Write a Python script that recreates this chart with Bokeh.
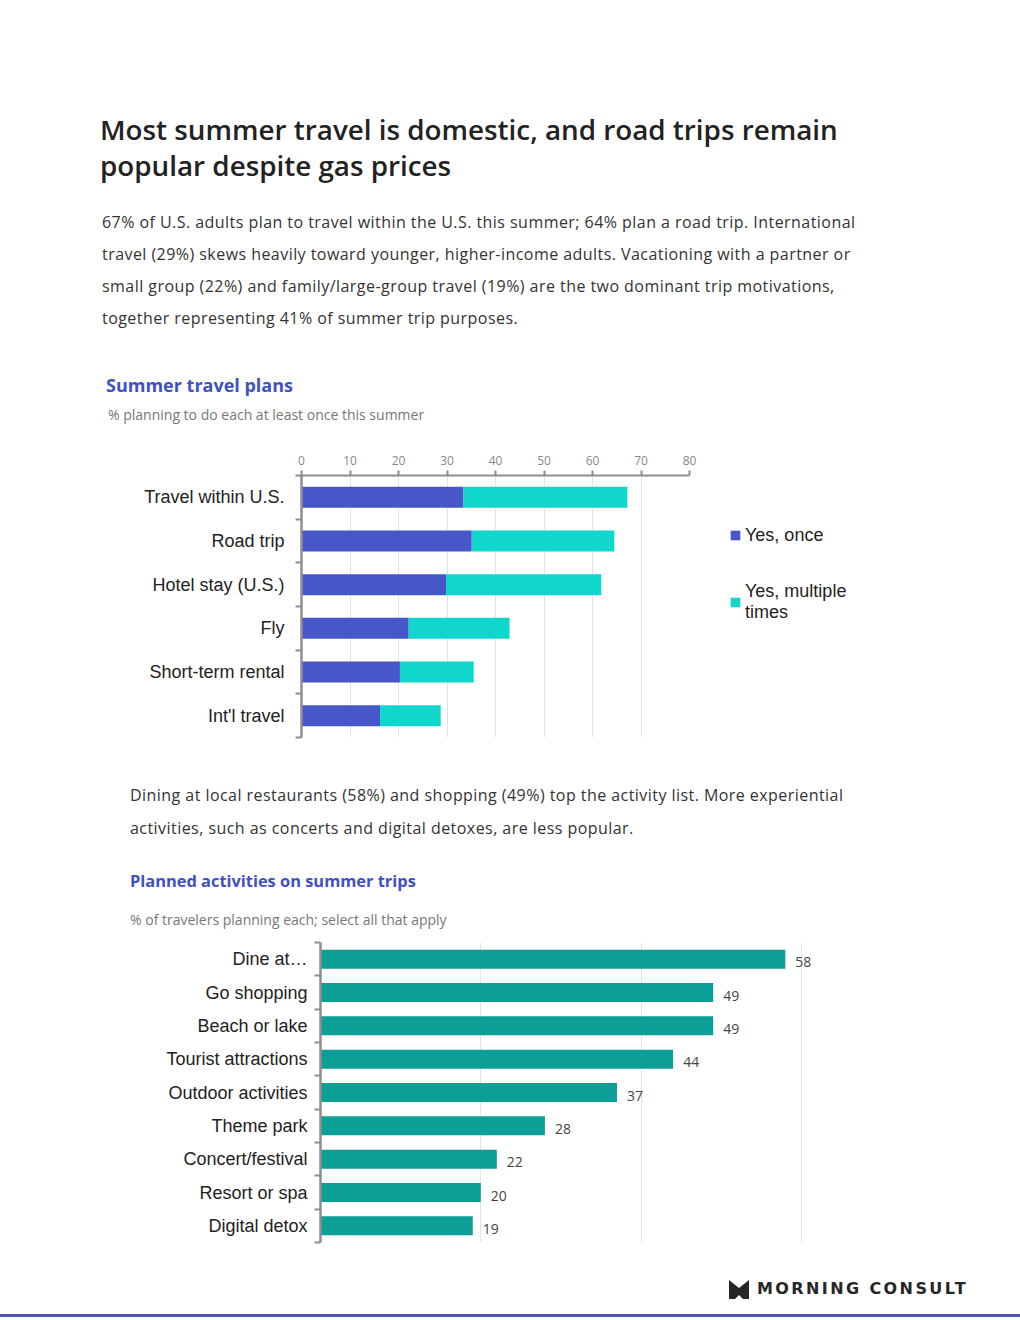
from bokeh.embed import file_html
from bokeh.resources import INLINE
from bokeh.layouts import column, row
from bokeh.models import ColumnDataSource, Div, FixedTicker, Legend, LegendItem, Range1d, Spacer
from bokeh.core.properties import value
from bokeh.plotting import figure

# Summer travel plans (% planning to do each at least once this summer)
plan_labels = ["Travel within U.S.", "Road trip", "Hotel stay (U.S.)", "Fly",
               "Short-term rental", "Int'l travel"]
plan_once = [33.4, 35.1, 29.8, 22.1, 20.3, 16.2]
plan_multiple = [33.8, 29.4, 32.0, 20.8, 15.2, 12.5]
plan_ticks = [0, 10, 20, 30, 40, 50, 60, 70, 80]
plan_series = ["Yes, once", "Yes, multiple\ntimes"]

# Planned activities on summer trips (% of travelers)
activity_labels = ["Dine at…", "Go shopping", "Beach or lake", "Tourist attractions",
                   "Outdoor activities", "Theme park", "Concert/festival",
                   "Resort or spa", "Digital detox"]
activity_values = [58, 49, 49, 44, 37, 28, 22, 20, 19]
activity_grid = [20, 40, 60]

BLUE = "#4757c9"
CYAN = "#10d6cc"
TEAL = "#0b9f97"
AXIS_GREY = "#8e8e8e"
HEAD_BLUE = "#3f50c6"
FONT = "Open Sans"
LABEL_FONT = "Liberation Sans"


def style_category_axis(axis, centers, labels, standoff):
    # labels sit between boundary ticks, like a spreadsheet category axis
    axis.ticker = FixedTicker(ticks=centers, minor_ticks=list(range(len(labels) + 1)))
    axis.major_label_overrides = {c: lab for c, lab in zip(centers, labels)}
    axis.axis_line_color = AXIS_GREY
    axis.axis_line_width = 2.5
    axis.major_tick_out = 0
    axis.major_tick_in = 0
    axis.minor_tick_out = 6
    axis.minor_tick_in = 0
    axis.minor_tick_line_color = AXIS_GREY
    axis.minor_tick_line_width = 2
    axis.major_label_standoff = standoff
    axis.major_label_text_font = LABEL_FONT
    axis.major_label_text_font_size = "18px"
    axis.major_label_text_color = "#222"


# ---- header text ----
header = Div(width=1004, height=350, margin=0, text=f"""
<div style="padding:111px 0 0 100px; font-family:'{FONT}';">
  <div style="font-size:27.8px; font-weight:600; line-height:36px; color:#222;">
    Most summer travel is domestic, and road trips remain<br>popular despite gas prices</div>
  <div style="margin-top:23px; padding-left:2px; font-size:16px; letter-spacing:0.45px; line-height:32px;
              color:#333; white-space:nowrap;">
    67% of U.S. adults plan to travel within the U.S. this summer; 64% plan a road trip. International<br>
    travel (29%) skews heavily toward younger, higher-income adults. Vacationing with a partner or<br>
    small group (22%) and family/large-group travel (19%) are the two dominant trip motivations,<br>
    together representing 41% of summer trip purposes.</div>
</div>""")

head1 = Div(width=1004, height=90, margin=0, text=f"""
<div style="padding:23px 0 0 106px; font-family:'{FONT}';">
  <div style="font-size:18px; font-weight:bold; line-height:24px; color:{HEAD_BLUE};">Summer travel plans</div>
  <div style="margin-top:8px; padding-left:2px; font-size:14px; line-height:20px; color:#777;">
    % planning to do each at least once this summer</div>
</div>""")

# ---- chart 1: stacked bars ----
centers1 = [i + 0.5 for i in range(len(plan_labels))]
src1 = ColumnDataSource(dict(y=centers1, once=plan_once, multiple=plan_multiple))

p1 = figure(frame_width=388, frame_height=262, x_range=Range1d(0, 80), y_range=Range1d(6, 0),
            x_axis_location="above", output_backend="svg", toolbar_location=None,
            min_border_left=301, min_border_top=35, min_border_bottom=20, min_border_right=0,
            outline_line_color=None)
p1.title = None

bars = p1.hbar_stack(["once", "multiple"], y="y", height=0.48, color=[BLUE, CYAN],
                     line_color=None, source=src1)

p1.xaxis.ticker = FixedTicker(ticks=plan_ticks)
p1.xaxis.axis_line_color = AXIS_GREY
p1.xaxis.axis_line_width = 2
p1.xaxis.major_tick_line_color = AXIS_GREY
p1.xaxis.major_tick_line_width = 2
p1.xaxis.major_tick_out = 5
p1.xaxis.major_tick_in = 0
p1.xaxis.minor_tick_out = 0
p1.xaxis.major_label_text_font = FONT
p1.xaxis.major_label_text_font_size = "12px"
p1.xaxis.major_label_text_color = "#888"
p1.xaxis.major_label_standoff = 6

style_category_axis(p1.yaxis[0], centers1, plan_labels, 11)

p1.xgrid.ticker = FixedTicker(ticks=plan_ticks[1:])
p1.xgrid.grid_line_color = "#e4e4e4"
p1.ygrid.visible = False

legend = Legend(items=[LegendItem(label=plan_series[0], renderers=[bars[0]]),
                       LegendItem(label=plan_series[1], renderers=[bars[1]])],
                location="top_left", margin=40, padding=8, spacing=26,
                glyph_width=12, glyph_height=12, label_height=40, label_standoff=4,
                label_text_font=LABEL_FONT, label_text_font_size="18px",
                label_text_color="#222", border_line_color=None, background_fill_alpha=0)
p1.add_layout(legend, "right")

# ---- middle text ----
head2 = Div(width=1004, height=173, margin=0, text=f"""
<div style="padding:22px 0 0 130px; font-family:'{FONT}';">
  <div style="font-size:16px; letter-spacing:0.45px; line-height:33px; color:#333; white-space:nowrap;">
    Dining at local restaurants (58%) and shopping (49%) top the activity list. More experiential<br>
    activities, such as concerts and digital detoxes, are less popular.</div>
  <div style="margin-top:25px; font-size:16.4px; font-weight:bold; line-height:22px; color:{HEAD_BLUE};">
    Planned activities on summer trips</div>
  <div style="margin-top:19px; font-size:14px; line-height:18px; color:#777;">
    % of travelers planning each; select all that apply</div>
</div>""")

# ---- chart 2: simple bars ----
centers2 = [i + 0.5 for i in range(len(activity_labels))]
src2 = ColumnDataSource(dict(y=centers2, v=activity_values, t=[str(v) for v in activity_values]))

p2 = figure(frame_width=561, frame_height=300, x_range=Range1d(0, 70), y_range=Range1d(9, 0),
            x_axis_location=None, output_backend="svg", toolbar_location=None,
            min_border_left=301, min_border_top=12, min_border_bottom=8, min_border_right=10,
            outline_line_color=None)
p2.title = None

p2.hbar(y="y", left=0, right="v", height=0.57, color=TEAL, line_color=None, source=src2)
p2.text(x="v", y="y", text="t", x_offset=10, y_offset=3, text_baseline="middle",
        text_font=value(FONT), text_font_size="14px", text_color="#444", source=src2)

style_category_axis(p2.yaxis[0], centers2, activity_labels, 7)

p2.xgrid.ticker = FixedTicker(ticks=activity_grid)
p2.xgrid.grid_line_color = "#e4e4e4"
p2.ygrid.visible = False

# ---- footer logo ----
footer = Div(width=1020, height=70, margin=0, text="""
<div style="position:relative; width:1020px; height:67px; border-bottom:3px solid #4b56b8;">
  <div style="position:absolute; left:729px; top:28px; display:flex; align-items:center;">
    <svg width="20" height="19" viewBox="0 0 20 19">
      <path d="M0 0 L10 8 L20 0 L20 19 L14 19 L10 15 L6 19 L0 19 Z" fill="#262626"/>
    </svg>
    <span style="margin-left:8px; font-family:'DejaVu Sans'; font-weight:bold; font-size:16px;
                 letter-spacing:2.4px; color:#262626;">MORNING CONSULT</span>
  </div>
</div>""")

layout = column(header, head1, p1, head2, row(Spacer(width=19, height=320), p2), footer, spacing=0)

open("out.html", "w").write(file_html(layout, INLINE))
